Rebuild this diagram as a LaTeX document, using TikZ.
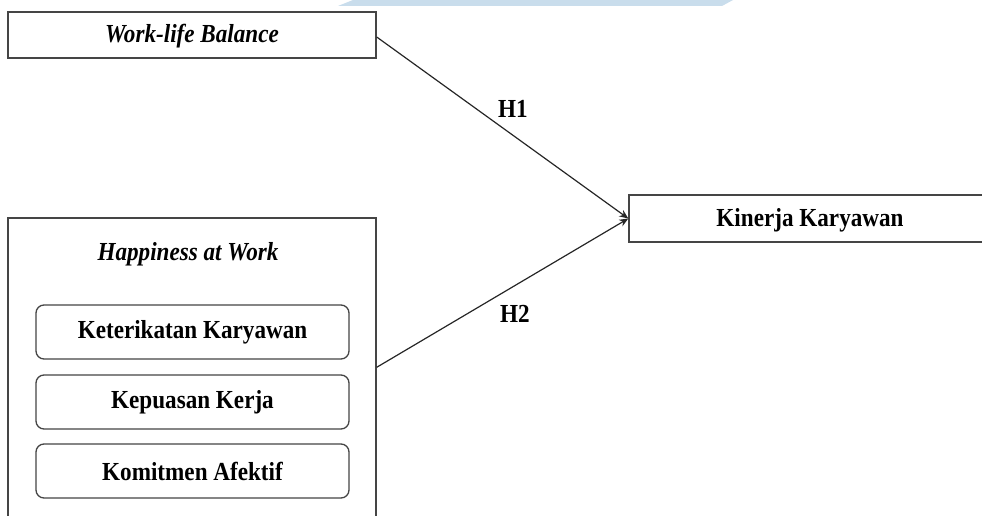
\documentclass[tikz,border=0pt]{standalone}
\usepackage{fontspec}
\setmainfont{Liberation Serif}[FakeStretch=0.89]
\usetikzlibrary{arrows.meta}
\definecolor{boxgray}{HTML}{454545}
\definecolor{wmblue}{HTML}{C9DDEC}
\begin{document}
\begin{tikzpicture}[x=1pt,y=-1pt,
  box/.style={draw=boxgray, line width=1.4pt, fill=white, inner sep=0pt},
  innerbox/.style={draw=boxgray, line width=1.3pt, rounded corners=8pt, minimum width=313pt, minimum height=54pt, inner sep=0pt, font=\fontsize{26}{30}\selectfont\bfseries},
  lbl/.style={inner sep=0pt, font=\fontsize{26}{30}\selectfont\bfseries},
  conn/.style={draw=black!85, line width=1.2pt, -{Stealth[length=9pt,width=7.5pt]}}]
\useasboundingbox (0,0) rectangle (982,516);
\clip (0,0) rectangle (982,516);
% watermark fragment
\fill[wmblue] (353,0) -- (338,6) -- (722,6) -- (733,0) -- cycle;
% boxes
\node[box, minimum width=368pt, minimum height=46pt] (wlb) at (192,35) {};
\node[lbl] (wlbt) at (192,36) {\textit{Work-life Balance}};
\node[box, minimum width=368pt, minimum height=320pt] (hap) at (192,378) {};
\node[lbl] (hapt) at (188,254) {\textit{Happiness at Work}};
\node[innerbox] (k1) at (192.5,332) {Keterikatan Karyawan};
\node[innerbox] (k2) at (192.5,402) {Kepuasan Kerja};
\node[innerbox] (k3) at (192.5,471) {Komitmen Afektif};
\node[box, minimum width=366pt, minimum height=47pt] (kin) at (812,218.5) {};
\node[lbl] (kint) at (810,220) {Kinerja Karyawan};
% connectors
\path (hap.north east) ++(0,150) coordinate (h2s);
\path (wlb.east) ++(0,2) coordinate (h1s);
\draw[conn] (h1s) -- (kin.west);
\draw[conn] (h2s) -- (kin.west);
\node[lbl] (h1) at (513,109) {H1};
\node[lbl] (h2) at (515,314) {H2};
\end{tikzpicture}
\end{document}
